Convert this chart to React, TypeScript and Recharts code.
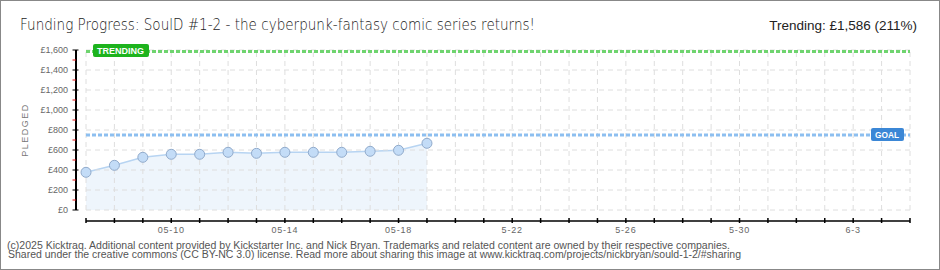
import React from 'react';
import { ComposedChart, Area, XAxis, YAxis, ReferenceLine } from 'recharts';

// Daily pledge totals (GBP), starting 05-07
const pledged = [377, 447, 527, 557, 557, 577, 567, 577, 577, 577, 587, 597, 667];
// Campaign runs 30 days: 05-07 .. 06-05
const campaignDays = Array.from({ length: 30 }, (_, i) => i);
const labeledDays = [3, 7, 11, 15, 19, 23, 27];
const labeledText = ['05-10', '05-14', '05-18', '5-22', '5-26', '5-30', '6-3'];
const majorTicks = [0, 200, 400, 600, 800, 1000, 1200, 1400, 1600];
const minorTicks = [100, 300, 500, 700, 900, 1100, 1300, 1500];
const goal = 750;
const trending = 1586;

const title = 'Funding Progress: SoulD #1-2 - the cyberpunk-fantasy comic series returns!';
const trendingText = 'Trending:  £1,586 (211%)';
const footer1 =
  '(c)2025 Kicktraq. Additional content provided by Kickstarter Inc. and Nick Bryan. Trademarks and related content are owned by their respective companies.';
const footer2 =
  'Shared under the creative commons (CC BY-NC 3.0) license. Read more about sharing this image at www.kicktraq.com/projects/nickbryan/sould-1-2/#sharing';

const data = pledged.map((v, i) => ({ day: i, pledged: v }));
const allYTicks = [...majorTicks, ...minorTicks].sort((a, b) => a - b);

// axis geometry (detached axes sit slightly away from the plot)
const X_DOMAIN: [number, number] = [-0.352, 29];
const Y_DOMAIN: [number, number] = [-110, 1600];
const TICK_SIZE = 3;
const TICK_MARGIN = 5;

const tickFont = '"Liberation Sans", Arial, sans-serif';

const YTick = (props: any) => {
  const { x, y, payload } = props;
  const axisX = x + TICK_SIZE + TICK_MARGIN;
  const v = payload.value as number;
  const isMajor = majorTicks.includes(v);
  if (!isMajor) {
    return <line x1={axisX - 3.5} x2={axisX} y1={y} y2={y} stroke="#e01010" strokeWidth={1} />;
  }
  return (
    <g>
      <line x1={axisX - 3.5} x2={axisX + 2.5} y1={y} y2={y} stroke="#000" strokeWidth={1} />
      <text
        x={axisX - 8}
        y={y + 3}
        textAnchor="end"
        fontFamily={tickFont}
        fontSize={9}
        fill="#666"
      >
        {'£' + v.toLocaleString('en-US')}
      </text>
    </g>
  );
};

const XTick = (props: any) => {
  const { x, y, payload } = props;
  const axisY = y - TICK_SIZE - TICK_MARGIN;
  const idx = labeledDays.indexOf(payload.value);
  return (
    <g>
      <line x1={x} x2={x} y1={axisY - 3} y2={axisY + 2} stroke="#000" strokeWidth={1.5} />
      {idx >= 0 && (
        <text
          x={x}
          y={axisY + 11.5}
          textAnchor="middle"
          fontFamily={tickFont}
          fontSize={9}
          letterSpacing={0.8}
          fill="#666"
        >
          {labeledText[idx]}
        </text>
      )}
    </g>
  );
};

const TrendBadge = (props: any) => {
  const vb = props.viewBox || {};
  const bx = vb.x + 7;
  const by = vb.y - 7.5;
  return (
    <g>
      <rect x={bx} y={by} width={56} height={13} rx={2} fill="#1db31d" />
      <text
        x={bx + 4}
        y={by + 10}
        fontFamily={tickFont}
        fontWeight="bold"
        fontSize={9}
        fill="#fff"
        textLength={47}
        lengthAdjust="spacingAndGlyphs"
      >
        TRENDING
      </text>
    </g>
  );
};

const GoalBadge = (props: any) => {
  const vb = props.viewBox || {};
  const right = vb.x + vb.width - 6;
  const bx = right - 33;
  const by = vb.y - 7;
  return (
    <g>
      <rect x={bx} y={by} width={33} height={13} rx={2} fill="#3b87d6" />
      <text
        x={bx + 4}
        y={by + 10}
        fontFamily={tickFont}
        fontWeight="bold"
        fontSize={9}
        fill="#fff"
        textLength={24}
        lengthAdjust="spacingAndGlyphs"
      >
        GOAL
      </text>
    </g>
  );
};

const PledgedLabel = (props: any) => {
  const vb = props.viewBox || {};
  const cx = vb.x + 24.5;
  const cy = 130;
  return (
    <text
      x={cx}
      y={cy}
      transform={`rotate(-90 ${cx} ${cy})`}
      textAnchor="middle"
      dominantBaseline="central"
      fontFamily={tickFont}
      fontSize={9}
      letterSpacing={1.5}
      fill="#777"
    >
      PLEDGED
    </text>
  );
};

const gridStroke = '#dedede';

export default function App() {
  return (
    <div style={{ position: 'absolute', left: 0, top: 0, width: 940, height: 270, background: '#fff' }}>
      <ComposedChart
        width={940}
        height={270}
        data={data}
        margin={{ top: 50, right: 30, bottom: 29, left: 0 }}
      >
        <XAxis
          dataKey="day"
          type="number"
          domain={X_DOMAIN}
          allowDataOverflow
          ticks={campaignDays}
          interval={0}
          height={20}
          axisLine={false}
          tickLine={false}
          tickSize={TICK_SIZE}
          tickMargin={TICK_MARGIN}
          tick={<XTick />}
        />
        <YAxis
          type="number"
          domain={Y_DOMAIN}
          allowDataOverflow
          ticks={allYTicks}
          interval={0}
          width={76}
          axisLine={false}
          tickLine={false}
          tickSize={TICK_SIZE}
          tickMargin={TICK_MARGIN}
          tick={<YTick />}
          label={<PledgedLabel />}
        />

        {/* dashed grid confined to the data region */}
        {majorTicks.map((v) => (
          <ReferenceLine
            key={'h' + v}
            segment={[
              { x: 0, y: v },
              { x: 29, y: v },
            ]}
            stroke={gridStroke}
            strokeDasharray="5 4"
            strokeWidth={1}
          />
        ))}
        {campaignDays.map((d) => (
          <ReferenceLine
            key={'v' + d}
            segment={[
              { x: d, y: 0 },
              { x: d, y: 1600 },
            ]}
            stroke={gridStroke}
            strokeDasharray="5 4"
            strokeWidth={1}
          />
        ))}

        <Area
          type="linear"
          dataKey="pledged"
          stroke="#b7d4f2"
          strokeWidth={1.5}
          fill="#ebf3fc"
          fillOpacity={0.85}
          baseValue={0}
          dot={{ r: 5, fill: '#c3dcf7', stroke: '#90aacb', strokeWidth: 1, fillOpacity: 1 }}
          activeDot={false}
          isAnimationActive={false}
        />

        <ReferenceLine
          segment={[
            { x: 0, y: goal },
            { x: 29, y: goal },
          ]}
          stroke="#8dbff0"
          strokeWidth={3}
          strokeDasharray="4 2"
          label={<GoalBadge />}
        />
        <ReferenceLine
          segment={[
            { x: 0, y: trending },
            { x: 29, y: trending },
          ]}
          stroke="#6fd46f"
          strokeWidth={3}
          strokeDasharray="4 2"
          label={<TrendBadge />}
        />

        {/* detached axis lines */}
        <ReferenceLine
          segment={[
            { x: X_DOMAIN[0], y: 0 },
            { x: X_DOMAIN[0], y: 1600 },
          ]}
          stroke="#000"
          strokeWidth={2}
        />
        <ReferenceLine
          segment={[
            { x: 0, y: Y_DOMAIN[0] },
            { x: 29, y: Y_DOMAIN[0] },
          ]}
          stroke="#000"
          strokeWidth={1.5}
        />
      </ComposedChart>

      <svg width={940} height={270} style={{ position: 'absolute', left: 0, top: 0, pointerEvents: 'none' }}>
        <text
          x={20}
          y={30}
          fontFamily='"DejaVu Sans", sans-serif'
          fontWeight={200}
          fontSize={16}
          fill="#1a1a1a"
          textLength={515}
          lengthAdjust="spacingAndGlyphs"
        >
          {title}
        </text>
        <text
          x={917}
          y={30}
          textAnchor="end"
          fontFamily='"Liberation Sans", sans-serif'
          fontSize={13.5}
          fill="#222"
        >
          {trendingText}
        </text>
        <text
          x={7}
          y={248.5}
          fontFamily={tickFont}
          fontSize={10}
          fill="#555"
          textLength={723}
          lengthAdjust="spacingAndGlyphs"
        >
          {footer1}
        </text>
        <text
          x={8}
          y={258}
          fontFamily={tickFont}
          fontSize={10}
          fill="#555"
          textLength={733}
          lengthAdjust="spacingAndGlyphs"
        >
          {footer2}
        </text>
      </svg>
      <div
        style={{
          position: 'absolute',
          left: 0,
          top: 0,
          width: 940,
          height: 270,
          boxSizing: 'border-box',
          border: '1px solid #888',
          pointerEvents: 'none',
        }}
      />
    </div>
  );
}
